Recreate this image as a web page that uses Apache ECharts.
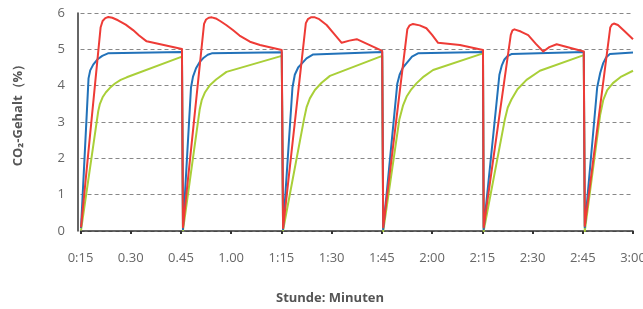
<!DOCTYPE html>
<html>
<head>
<meta charset="utf-8">
<script src="https://cdn.jsdelivr.net/npm/echarts@6/dist/echarts.min.js"></script>
<style>
  html, body { margin: 0; padding: 0; background: #fff; }
  #chart { width: 643px; height: 309px; }
</style>
</head>
<body>
<div id="chart"></div>
<script>
// x-Achse: Minuten ab 0:00, Beschriftung wie im Original
var tickLabels = ['0:15', '0.30', '0.45', '1.00', '1:15', '1:30', '1:45', '2:00', '2:15', '2:30', '2:45', '3:00'];

// CO2-Gehalt [Minute, %] je Kurve
var blue = [
  [15.15, 0.08], [17.4, 4.2], [17.9, 4.42], [18.8, 4.58], [20, 4.72], [21.5, 4.82], [23.2, 4.89], [45.3, 4.93],
  [45.6, 0.05], [48.0, 3.95], [48.6, 4.25], [49.5, 4.48], [50.6, 4.65], [51.8, 4.77], [53, 4.85], [54.2, 4.89], [75.1, 4.92],
  [75.5, 0.05], [78.3, 3.95], [79.0, 4.3], [80.0, 4.5], [81.0, 4.6], [82.5, 4.75], [84.5, 4.86], [105.1, 4.93],
  [105.4, 0.05], [109.6, 4.05], [110.3, 4.3], [111.3, 4.5], [112.4, 4.62], [114, 4.8], [115.8, 4.89], [135.2, 4.93],
  [135.4, 0.05], [140.1, 4.3], [140.8, 4.55], [141.6, 4.72], [142.5, 4.81], [143.7, 4.87], [165.3, 4.93],
  [165.6, 0.1], [169.3, 3.95], [170.2, 4.35], [171.1, 4.62], [172, 4.78], [173.1, 4.87], [180, 4.91]
];
var red = [
  [15.15, 0.1], [21.0, 5.6], [21.6, 5.78], [22.4, 5.86], [23.3, 5.89], [24.5, 5.87], [26.2, 5.8], [28.5, 5.68], [30.7, 5.53], [32.5, 5.38], [34.76, 5.22], [45.3, 5.01],
  [45.6, 0.1], [51.9, 5.7], [52.5, 5.82], [53.3, 5.87], [54.2, 5.88], [55.4, 5.85], [56.7, 5.78], [58.5, 5.67], [60.5, 5.53], [62.5, 5.38], [65.6, 5.21], [68.6, 5.12], [75.1, 4.98],
  [75.5, 0.08], [82.3, 5.72], [82.9, 5.83], [83.8, 5.88], [85.0, 5.88], [86.3, 5.83], [88.5, 5.67], [90.8, 5.42], [93.0, 5.18], [95.3, 5.24], [97.5, 5.28], [105.1, 4.96],
  [105.4, 0.1], [112.6, 5.55], [113.3, 5.66], [114.3, 5.7], [116.3, 5.66], [118.3, 5.58], [120, 5.4], [121.8, 5.18], [128.3, 5.12], [135.2, 4.98],
  [135.4, 0.1], [143.5, 5.4], [144.0, 5.52], [144.6, 5.55], [146.5, 5.49], [148.7, 5.39], [151, 5.15], [153.2, 4.94], [155, 5.06], [157.2, 5.14], [165.3, 4.94],
  [165.6, 0.14], [173.2, 5.6], [173.7, 5.68], [174.3, 5.71], [175.5, 5.67], [177.5, 5.5], [180, 5.28]
];
var green = [
  [15.15, 0.02], [20.3, 3.3], [20.8, 3.5], [21.6, 3.68], [22.6, 3.82], [23.8, 3.94], [25.3, 4.06], [27, 4.16], [28.8, 4.23], [45.3, 4.8],
  [45.6, 0.02], [50.6, 3.35], [51.2, 3.6], [52.2, 3.82], [53.7, 4.02], [55.5, 4.17], [58.6, 4.38], [75.1, 4.82],
  [75.5, 0.02], [81.8, 3.1], [82.5, 3.4], [83.5, 3.65], [85.0, 3.88], [87.0, 4.08], [89.5, 4.27], [105.1, 4.82],
  [105.4, 0.0], [110.2, 3.06], [111.3, 3.45], [112.4, 3.7], [113.8, 3.9], [115.4, 4.07], [117.5, 4.25], [120.3, 4.43], [135.2, 4.89],
  [135.4, 0.0], [141.7, 3.06], [142.6, 3.4], [143.7, 3.62], [145.5, 3.9], [148.2, 4.16], [152.2, 4.41], [165.3, 4.84],
  [165.6, 0.0], [170.2, 3.2], [171.1, 3.6], [172.3, 3.88], [174, 4.07], [176.5, 4.25], [180, 4.41]
];

var myChart = echarts.init(document.getElementById('chart'));

function line(data, color) {
  return {
    type: 'line',
    data: data,
    symbol: 'none',
    lineStyle: { color: color, width: 2, join: 'round' },
    animation: false
  };
}

var option = {
  animation: false,
  grid: { left: 80.5, right: 10, top: 13, bottom: 78, outerBoundsMode: 'none' },
  textStyle: { fontFamily: 'Open Sans' },
  xAxis: {
    type: 'value',
    min: 15,
    max: 180,
    interval: 15,
    offset: 2,
    axisLine: { lineStyle: { color: '#333', width: 1.5 } },
    axisTick: { show: true, length: 3, lineStyle: { color: '#333', width: 2 } },
    splitLine: { show: false },
    axisLabel: {
      color: '#666',
      fontSize: 13,
      margin: 19,
      formatter: function (v) { return tickLabels[Math.round((v - 15) / 15)]; }
    }
  },
  yAxis: {
    type: 'value',
    min: 0,
    max: 6,
    interval: 1,
    offset: 2.5,
    axisLine: { show: true, lineStyle: { color: '#333', width: 1.5 } },
    axisTick: { show: false },
    axisLabel: { color: '#666', fontSize: 13, margin: 13 },
    splitLine: { lineStyle: { color: '#888', type: [4, 3], width: 1 } }
  },
  graphic: [
    {
      type: 'text',
      x: 18, y: 112,
      rotation: Math.PI / 2,
      style: {
        text: 'CO₂-Gehalt（%）',
        fill: '#555',
        font: 'bold 13px "Open Sans"',
        align: 'center',
        verticalAlign: 'middle'
      }
    },
    {
      type: 'text',
      x: 330, y: 298,
      style: {
        text: 'Stunde: Minuten',
        fill: '#555',
        font: 'bold 13px "Open Sans"',
        align: 'center',
        verticalAlign: 'middle'
      }
    }
  ],
  series: [
    line(green, '#a9cf38'),
    line(blue, '#2272b9'),
    line(red, '#ee3b36')
  ]
};
myChart.setOption(option);
</script>
</body>
</html>
